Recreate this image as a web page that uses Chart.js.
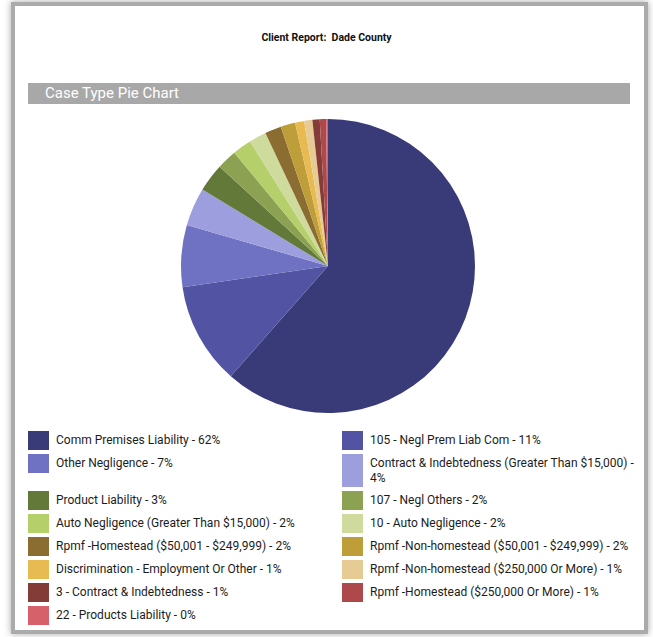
<!DOCTYPE html>
<html>
<head>
<meta charset="utf-8">
<script src="https://cdn.jsdelivr.net/npm/chart.js@4.4.1/dist/chart.umd.min.js"></script>
<style>
  body { margin: 0; background: #fff; font-family: "Roboto", sans-serif; }
  #panel {
    position: absolute; left: 11px; top: 2px; width: 637px; height: 632px;
    box-sizing: border-box; border: 4px solid #ababab; background: #fff;
    box-shadow: 0 0 7px rgba(0, 0, 0, 0.35);
  }
  #titulo {
    position: absolute; left: 0; top: 31px; width: 653px; text-align: center;
    font-weight: 700; font-size: 10.5px; color: #111;
  }
  #barra {
    position: absolute; left: 28px; top: 83px; width: 602px; height: 21px;
    background: #a8a8a8; color: #fff; font-size: 15px; line-height: 21px;
    box-sizing: border-box; padding-left: 17px;
  }
  #caja-pie { position: absolute; left: 181px; top: 119px; width: 294px; height: 294px; }
  #leyenda {
    position: absolute; left: 28px; top: 431px; width: 614px;
    display: grid; grid-template-columns: 314px 300px; row-gap: 4px; align-items: start;
  }
  .item { display: flex; align-items: stretch; min-height: 19px; }
  .cuadro { width: 21px; flex: none; }
  .texto {
    margin-left: 7px; font-size: 12px; line-height: 15px; color: #1c1c1c;
    padding: 1.5px 0; display: flex; align-items: center;
  }
</style>
</head>
<body>
<div id="panel"></div>
<div id="titulo">Client Report:&nbsp; Dade County</div>
<div id="barra">Case Type Pie Chart</div>
<div id="caja-pie"><canvas id="grafico"></canvas></div>
<div id="leyenda"></div>
<script>
const categorias = [
  "Comm Premises Liability",
  "105 - Negl Prem Liab Com",
  "Other Negligence",
  "Contract & Indebtedness (Greater Than $15,000)",
  "Product Liability",
  "107 - Negl Others",
  "Auto Negligence (Greater Than $15,000)",
  "10 - Auto Negligence",
  "Rpmf -Homestead ($50,001 - $249,999)",
  "Rpmf -Non-homestead ($50,001 - $249,999)",
  "Discrimination - Employment Or Other",
  "Rpmf -Non-homestead ($250,000 Or More)",
  "3 - Contract & Indebtedness",
  "Rpmf -Homestead ($250,000 Or More)",
  "22 - Products Liability"
];
const valores = [61.5, 11.2, 6.8, 4.2, 3.1, 2.2, 2.1, 1.9, 1.8, 1.6, 1.0, 0.9, 0.8, 0.7, 0.2];
const colores = [
  "#393b79", "#5254a3", "#6f71c2", "#9c9ede",
  "#637939", "#8ca252", "#b5cf6b", "#cedb9c",
  "#8c6d31", "#bd9e39", "#e7ba52", "#e7cb94",
  "#843c39", "#ad494a", "#d6616b"
];

const canvasGrafico = document.getElementById("grafico");
const leyenda = document.getElementById("leyenda");

function crearGrafico() {
  const config = {
    type: "pie",
    data: {
      labels: categorias,
      datasets: [{
        data: valores,
        backgroundColor: colores,
        borderWidth: 0,
        hoverOffset: 0
      }]
    },
    options: {
      responsive: true,
      maintainAspectRatio: false,
      animation: false,
      events: [],
      layout: { padding: 0 },
      plugins: { legend: { display: false }, tooltip: { enabled: false } }
    }
  };
  return new Chart(canvasGrafico, config);
}

function crearLeyenda(chart) {
  const total = valores.reduce((a, b) => a + b, 0);
  chart.data.labels.forEach((etiqueta, i) => {
    const pct = Math.round((valores[i] / total) * 100);
    const item = document.createElement("div");
    item.className = "item";
    item.innerHTML = `<div class="cuadro" style="background:${colores[i]}"></div>` +
      `<div class="texto"><span>${etiqueta} - ${pct}%</span></div>`;
    leyenda.appendChild(item);
  });
}

const miGrafico = crearGrafico();
crearLeyenda(miGrafico);
</script>
</body>
</html>
